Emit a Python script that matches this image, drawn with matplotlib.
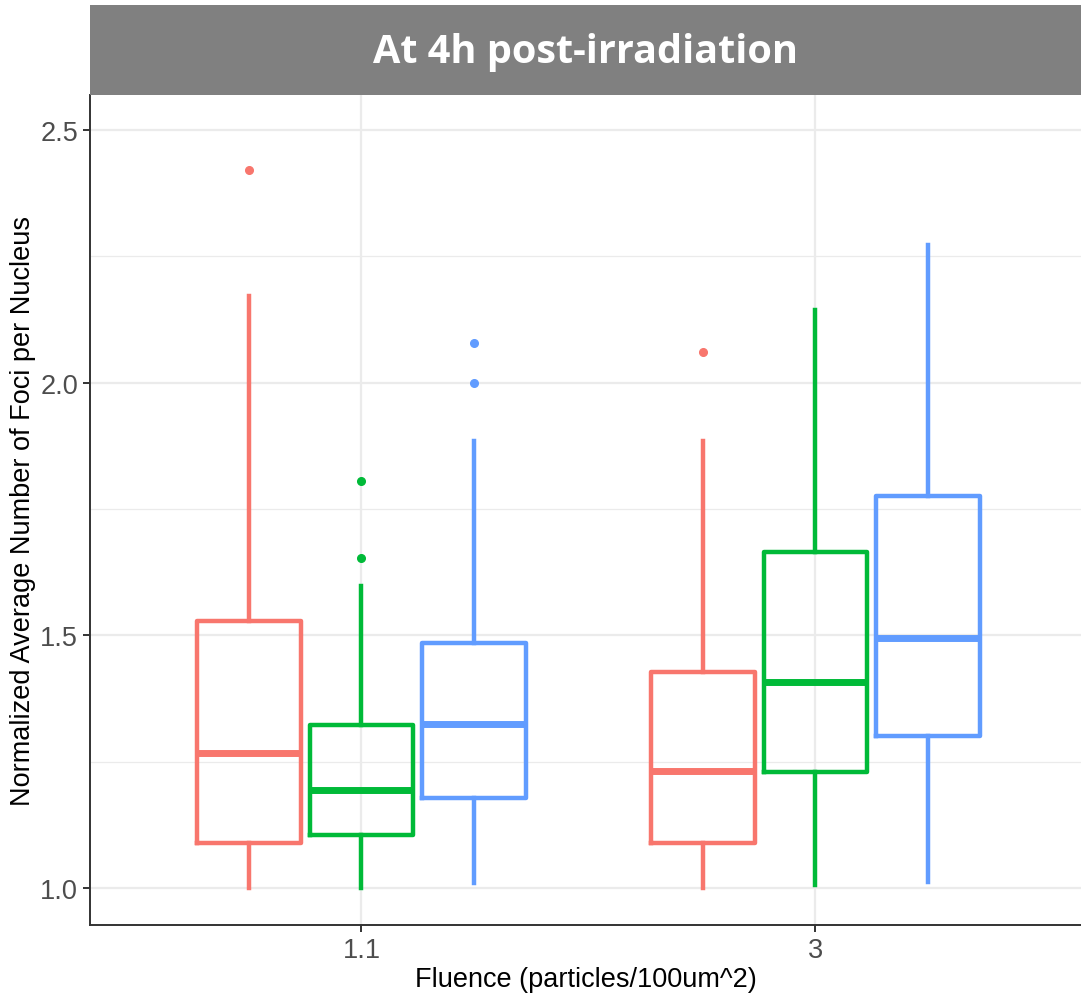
import matplotlib
matplotlib.use("Agg")
import matplotlib.pyplot as plt
from matplotlib.patches import Rectangle

# ---- data ----
fluence_labels = ["1.1", "3"]
group_colors = ["#F8766D", "#00BA38", "#619CFF"]

# per group (red, green, blue) for each fluence: [whislo, q1, med, q3, whishi]
red_stats = [[1.00, 1.089, 1.267, 1.529, 2.171], [1.00, 1.089, 1.232, 1.428, 1.884]]
green_stats = [[1.00, 1.105, 1.194, 1.323, 1.598], [1.006, 1.230, 1.408, 1.664, 2.143]]
blue_stats = [[1.010, 1.178, 1.325, 1.485, 1.884], [1.012, 1.301, 1.495, 1.775, 2.272]]

red_outliers = [[2.421], [2.060]]
green_outliers = [[1.806, 1.654], []]
blue_outliers = [[2.078, 2.000], []]

all_stats = [red_stats, green_stats, blue_stats]
all_outliers = [red_outliers, green_outliers, blue_outliers]

W, H = 1081, 995
fig = plt.figure(figsize=(W / 100, H / 100), dpi=100)
plt.rcParams['font.family'] = ['Liberation Sans', 'DejaVu Sans']

left, right, top, bottom = 90, 1081, 96, 926
ax = fig.add_axes([left / W, 1 - bottom / H, (right - left) / W, (bottom - top) / H])

offsets = [-0.248, 0.0, 0.248]
box_w = 0.228
for g in range(3):
    for i in range(2):
        lo, q1, med, q3, hi = all_stats[g][i]
        st = dict(whislo=lo, q1=q1, med=med, q3=q3, whishi=hi,
                  fliers=all_outliers[g][i], label="")
        c = group_colors[g]
        ax.bxp([st], positions=[i + 1 + offsets[g]], widths=box_w,
               showcaps=False, patch_artist=False,
               boxprops=dict(color=c, linewidth=3.2),
               whiskerprops=dict(color=c, linewidth=3.2),
               medianprops=dict(color=c, linewidth=5.0, solid_capstyle='butt'),
               flierprops=dict(marker='o', markerfacecolor=c, markeredgecolor=c,
                               markersize=5.5),
               manage_ticks=False, zorder=3)

ax.set_xlim(0.402, 2.585)
ax.set_ylim(0.927, 2.569)
ax.set_xticks([1, 2])
ax.set_xticklabels(fluence_labels)
ax.set_yticks([1.0, 1.5, 2.0, 2.5])
ax.set_yticklabels(["1.0", "1.5", "2.0", "2.5"])
ax.set_yticks([1.25, 1.75, 2.25], minor=True)

ax.grid(True, which='major', color='#EBEBEB', linewidth=1.6, zorder=0)
ax.grid(True, which='minor', axis='y', color='#EBEBEB', linewidth=0.9, zorder=0)
ax.set_axisbelow(True)

for s in ['top', 'right']:
    ax.spines[s].set_visible(False)
for s in ['left', 'bottom']:
    ax.spines[s].set_color('#333333')
    ax.spines[s].set_linewidth(1.4)

ax.tick_params(axis='both', which='major', colors='#333333', labelcolor='#4D4D4D',
               labelsize=19.5, length=5, width=1.4)
ax.tick_params(axis='both', which='minor', length=0)

ax.set_xlabel("Fluence (particles/100um^2)", fontsize=19.5, color='black', labelpad=2)
ax.set_ylabel("Normalized Average Number of Foci per Nucleus", fontsize=19.5,
              color='black', labelpad=3)

# title strip
fig.patches.append(Rectangle((left / W, 1 - 96 / H), (right - left) / W, 90 / H,
                             transform=fig.transFigure, facecolor='#808080',
                             edgecolor='none', zorder=0))
fig.text((left + right) / 2 / W, 1 - 53 / H, "At 4h post-irradiation",
         ha='center', va='center', color='white', fontsize=28.5, fontweight='bold',
         family=['Open Sans', 'DejaVu Sans'])

fig.savefig("out.png", dpi=100)
